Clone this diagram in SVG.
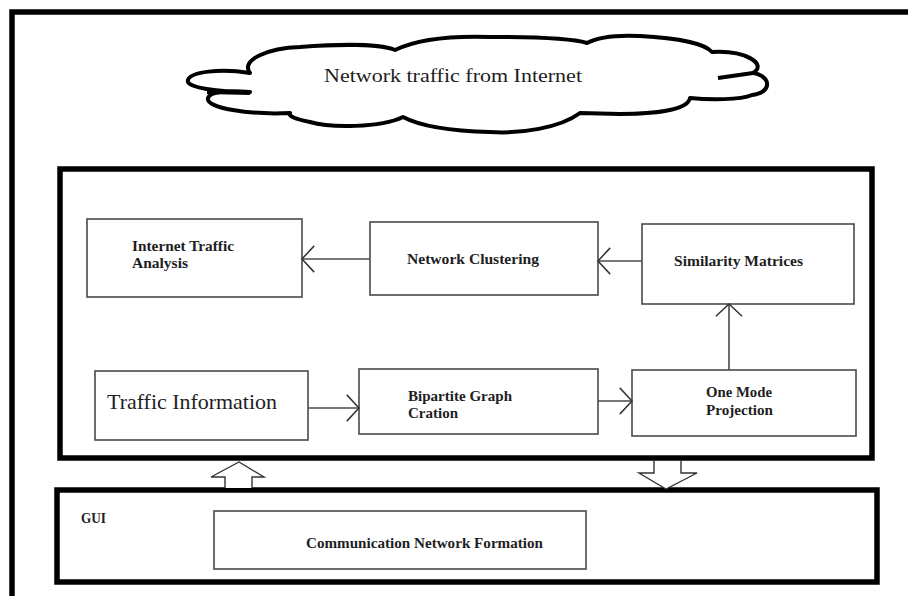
<svg xmlns="http://www.w3.org/2000/svg" width="908" height="596" viewBox="0 0 908 596">
<style>
.frame{fill:none;stroke:#000;stroke-width:5.5}
.box{fill:#fff;stroke:#4a4a4a;stroke-width:1.6}
.conn{fill:none;stroke:#4a4a4a;stroke-width:1.6}
.hollow{fill:#fff;stroke:#333;stroke-width:1.4}
.lbl{font-family:"Liberation Serif",serif;font-weight:bold;font-size:15px;fill:#1e1e1e}
.reg{font-family:"Liberation Serif",serif;fill:#1e1e1e}
.cloud{fill:#fff;stroke:#000;stroke-width:4;stroke-linejoin:round}
</style>
<defs>
<marker id="open" markerUnits="userSpaceOnUse" markerWidth="30" markerHeight="30" viewBox="-16 -16 32 32" refX="0" refY="0" orient="auto">
<path d="M -13,-14 L 0,0 L -13,14" fill="none" stroke="#333" stroke-width="1.6"/>
</marker>
</defs>
<rect width="908" height="596" fill="#fff"/>

<g id="outer-frame">
<path class="frame" d="M 12,600 L 12,12 L 912,12"/>
</g>

<g id="cloud">
<path class="cloud" d="M 250,73 C 240,60 268,48 300,47 C 340,44 380,44 395,50 C 420,38 460,36 490,37 C 530,37 570,38 587,43 C 600,36 620,35 640,36 C 680,38 705,44 712,52 C 745,50 768,64 753,73 C 772,76 772,93 752,95 C 740,100 710,100 690,98 C 688,110 655,114 620,114 L 580,113 C 560,128 520,134 490,132 C 450,131 420,126 403,117 C 380,128 330,128 310,122 C 295,119 288,116 290,113 C 250,115 205,108 208,98 C 210,92 225,90 250,92 C 220,92 185,88 188,80 C 190,72 220,68 250,73 Z"/>
<path d="M 718,78 L 753,73" stroke="#000" stroke-width="4" fill="none"/>
<path d="M 207,92 L 250,93" stroke="#000" stroke-width="4" fill="none"/>
<text class="reg" x="324" y="82" font-size="18" textLength="258" lengthAdjust="spacingAndGlyphs">Network traffic from Internet</text>
</g>

<g id="main-box">
<rect class="frame" x="60" y="169" width="812" height="289"/>
</g>

<g id="internet-traffic-analysis">
<rect class="box" x="87" y="219" width="215" height="78"/>
<text class="lbl" x="132" y="251" textLength="102" lengthAdjust="spacingAndGlyphs">Internet Traffic</text>
<text class="lbl" x="132" y="268" textLength="56" lengthAdjust="spacingAndGlyphs">Analysis</text>
</g>

<g id="network-clustering">
<rect class="box" x="370" y="222" width="228" height="73"/>
<text class="lbl" x="407" y="264" textLength="132" lengthAdjust="spacingAndGlyphs">Network Clustering</text>
</g>

<g id="similarity-matrices">
<rect class="box" x="642" y="224" width="212" height="80"/>
<text class="lbl" x="674" y="266" textLength="129" lengthAdjust="spacingAndGlyphs">Similarity Matrices</text>
</g>

<g id="traffic-information">
<rect class="box" x="95" y="371" width="213" height="69"/>
<text class="reg" x="107" y="409" font-size="21" textLength="170" lengthAdjust="spacingAndGlyphs">Traffic Information</text>
</g>

<g id="bipartite-graph">
<rect class="box" x="359" y="369" width="239" height="65"/>
<text class="lbl" x="408" y="401" textLength="104" lengthAdjust="spacingAndGlyphs">Bipartite Graph</text>
<text class="lbl" x="408" y="418" textLength="50" lengthAdjust="spacingAndGlyphs">Cration</text>
</g>

<g id="one-mode-projection">
<rect class="box" x="632" y="370" width="224" height="66"/>
<text class="lbl" x="706" y="397" textLength="66" lengthAdjust="spacingAndGlyphs">One Mode</text>
<text class="lbl" x="706" y="415" textLength="67" lengthAdjust="spacingAndGlyphs">Projection</text>
</g>

<g id="gui-box">
<rect class="frame" x="57" y="490" width="820" height="92"/>
<text class="lbl" x="81" y="523" font-size="13" textLength="25" lengthAdjust="spacingAndGlyphs">GUI</text>
</g>

<g id="communication-network-formation">
<rect class="box" x="214" y="511" width="372" height="58"/>
<text class="lbl" x="306" y="548" textLength="237" lengthAdjust="spacingAndGlyphs">Communication  Network Formation</text>
</g>

<g id="connectors">
<line class="conn" x1="370" y1="259" x2="302" y2="259" marker-end="url(#open)"/>
<line class="conn" x1="642" y1="261" x2="598" y2="261" marker-end="url(#open)"/>
<line class="conn" x1="308" y1="408" x2="359" y2="408" marker-end="url(#open)"/>
<line class="conn" x1="598" y1="401" x2="632" y2="401" marker-end="url(#open)"/>
<line class="conn" x1="729" y1="370" x2="729" y2="304" marker-end="url(#open)"/>
<path class="hollow" d="M 225,488 L 225,477 L 211,477 L 239,462 L 264,477 L 252,477 L 252,488"/>
<path class="hollow" d="M 654,461 L 654,473 L 639,473 L 666,489 L 697,473 L 681,473 L 681,461"/>
</g>
</svg>
